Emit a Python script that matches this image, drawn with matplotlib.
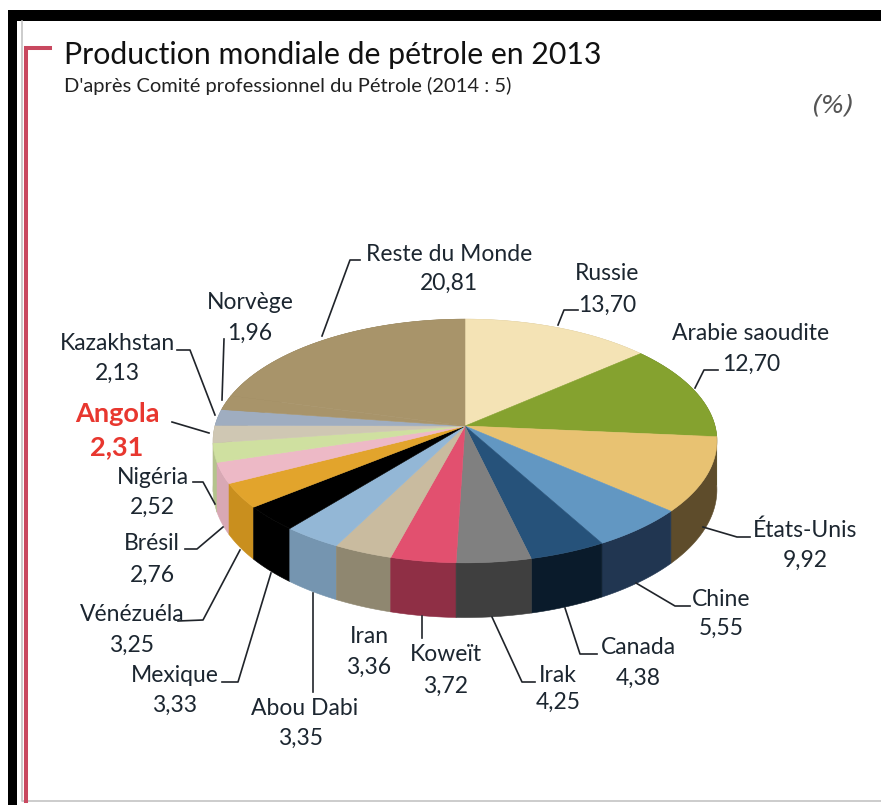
import numpy as np
import matplotlib
matplotlib.use('Agg')
import matplotlib.pyplot as plt
from matplotlib.patches import Polygon, Rectangle

# clockwise from the top
pays = ['Russie', 'Arabie saoudite', 'États-Unis', 'Chine', 'Canada', 'Irak', 'Koweït', 'Iran',
        'Abou Dabi', 'Mexique', 'Vénézuéla', 'Brésil', 'Nigéria', 'Angola', 'Kazakhstan',
        'Norvège', 'Reste du Monde']
valeurs = [13.70, 12.70, 9.92, 5.55, 4.38, 4.25, 3.72, 3.36,
           3.35, 3.33, 3.25, 2.76, 2.52, 2.31, 2.13,
           1.96, 20.81]
dessus = ['#f4e3b5', '#85a22f', '#e8c272', '#6297c2', '#26527a', '#808080', '#e2506f', '#c9bb9f',
          '#93b7d6', '#000000', '#e2a42c', '#edb9c6', '#cfe0a0', '#cfc7b3', '#9fadc0',
          '#a8946a', '#a8946a']
cotes = ['#c9b98f', '#64792a', '#5e4c2b', '#213651', '#0a1b2b', '#3f3f3f', '#8f2f45', '#8f8770',
         '#7595b0', '#000000', '#c98f1e', '#d8a8b4', '#b4c48c', '#b5ad98', '#8a97a8',
         '#8a7a55', '#8a7a55']

# label centres and leader lines, in pixels of the picture
pos_noms = [(607, 273), (751, 333), (805, 530), (721, 599), (638, 647), (558, 675), (446, 654), (369, 636),
            (305, 708), (175, 675), (132, 614), (152, 543), (153, 477), (117, 414), (117, 343),
            (250, 302), (449, 254)]
pos_vals = [(607, 305), (751, 364), (805, 560), (721, 628), (638, 678), (558, 702), (446, 686), (369, 667),
            (301, 738), (175, 705), (132, 645), (152, 575), (152, 507), (117, 447), (117, 373),
            (250, 333), (449, 283)]
traits = [[(578, 310), (564, 310), (558, 325)],
          [(718, 370), (704, 370), (695, 388)],
          [(750, 537), (737, 537), (703, 527)],
          [(690, 606), (675, 606), (636, 583)],
          [(597, 654), (580, 654), (565, 608)],
          [(535, 682), (522, 682), (492, 617)],
          [(422, 638), (422, 616)],
          [],
          [(313, 692), (313, 593)],
          [(222, 682), (238, 682), (271, 573)],
          [(178, 621), (203, 620), (240, 550)],
          [(185, 549), (197, 549), (223, 527)],
          [(193, 482), (203, 482), (215, 504)],
          [(172, 422), (209, 433)],
          [(177, 350), (190, 350), (215, 415)],
          [(224, 339), (222, 400)],
          [(360, 260), (350, 260), (322, 336)]]

CX, CY = 465, 426
RX, RY = 250, 120
K = 0.123      # perspective
EP = 48        # pie thickness


def proj(pct):
    a = np.radians(np.asarray(pct) * 3.6)
    u, v = np.sin(a), np.cos(a)
    w = 1 + K * v
    return CX + RX * u / w, CY - RY * v / w, EP / w


fig = plt.figure(figsize=(8.81, 8.05), dpi=100)
ax = fig.add_axes([0, 0, 1, 1])
ax.set_xlim(0, 881)
ax.set_ylim(805, 0)
ax.axis('off')

# frame
ax.add_patch(Rectangle((8, 10), 873, 11, fc='black', ec='none'))
ax.add_patch(Rectangle((8, 10), 9, 795, fc='black', ec='none'))
ax.plot([22, 22, 881], [21, 801, 801], color='#c4c4c4', lw=1.2)
ax.plot([50, 26, 26], [48, 48, 801], color='#c8485f', lw=2.9, solid_joinstyle='miter')

debuts = np.cumsum([0] + valeurs[:-1])
fins = np.cumsum(valeurs)

# walls first, back to front
ordre = np.argsort([np.cos(np.radians((d + f) * 1.8)) for d, f in zip(debuts, fins)])[::-1]
for i in ordre:
    t = np.linspace(debuts[i], fins[i], 40)
    x, y, e = proj(t)
    pts = np.r_[np.c_[x, y], np.c_[x, y + e][::-1]]
    ax.add_patch(Polygon(pts, fc=cotes[i], ec=cotes[i], lw=0.4))

# top surface
for i in range(len(valeurs)):
    t = np.linspace(debuts[i], fins[i], 60)
    x, y, e = proj(t)
    pts = np.r_[[[CX, CY]], np.c_[x, y]]
    ax.add_patch(Polygon(pts, fc=dessus[i], ec=dessus[i], lw=0.4))

# labels
POLICE = 'Lato'
ENCRE = '#1c2630'
for i, nom in enumerate(pays):
    val = ('%.2f' % valeurs[i]).replace('.', ',')
    if nom == 'Angola':
        st = dict(color='#e8372f', fontweight='bold', fontsize=19.5)
    else:
        st = dict(color=ENCRE, fontsize=16.5)
    ax.text(pos_noms[i][0], pos_noms[i][1], nom, ha='center', va='center', family=POLICE, **st)
    ax.text(pos_vals[i][0], pos_vals[i][1], val, ha='center', va='center', family=POLICE, **st)
    if traits[i]:
        tx, ty = zip(*traits[i])
        ax.plot(tx, ty, color='#20242a', lw=1.2, solid_joinstyle='round')

ax.text(64, 55, 'Production mondiale de pétrole en 2013', fontsize=21.8, family=POLICE, color='#111111',
        ha='left', va='center')
ax.text(64, 86, "D'après Comité professionnel du Pétrole (2014 : 5)", fontsize=14.5, family=POLICE,
        color='#222222', ha='left', va='center')
ax.text(833, 106, '(%)', fontsize=18, family='DejaVu Sans', style='italic', color='#555555',
        ha='center', va='center')

fig.savefig('out.png', dpi=100)
